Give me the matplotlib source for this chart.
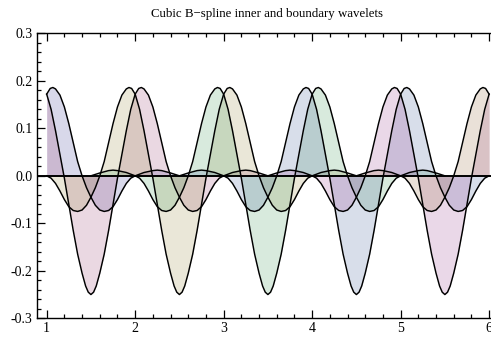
import numpy as np
import matplotlib
matplotlib.use("Agg")
import matplotlib.pyplot as plt
from matplotlib.ticker import MultipleLocator

# wavelet profile (offset from centre, value)
profile_dx = [-2.00, -1.90, -1.80, -1.75, -1.70, -1.60, -1.50, -1.45, -1.40, -1.35,
              -1.30, -1.25, -1.20, -1.15, -1.10, -1.05, -1.00, -0.95, -0.90, -0.85,
              -0.80, -0.75, -0.70, -0.65, -0.60, -0.57, -0.54, -0.50, -0.45, -0.40,
              -0.35, -0.30, -0.25, -0.20, -0.15, -0.10, -0.06, -0.03, 0.00,
              0.03, 0.06, 0.10, 0.15, 0.20, 0.25, 0.30, 0.35, 0.40, 0.45,
              0.50, 0.54, 0.57, 0.60, 0.65, 0.70, 0.75, 0.80, 0.85, 0.90,
              0.95, 1.00, 1.05, 1.10, 1.15, 1.20, 1.25, 1.30, 1.35, 1.40,
              1.45, 1.50, 1.60, 1.70, 1.75, 1.80, 1.90, 2.00]
profile_y = [0.000, 0.006, 0.011, 0.012, 0.011, 0.007, 0.000, -0.005, -0.016, -0.032,
             -0.050, -0.065, -0.073, -0.075, -0.072, -0.062, -0.045, -0.025, 0.000, 0.030,
             0.070, 0.110, 0.145, 0.170, 0.183, 0.186, 0.184, 0.172, 0.140, 0.095,
             0.045, -0.005, -0.060, -0.115, -0.165, -0.205, -0.232, -0.245, -0.250,
             -0.245, -0.232, -0.205, -0.165, -0.115, -0.060, -0.005, 0.045, 0.095, 0.140,
             0.172, 0.184, 0.186, 0.183, 0.170, 0.145, 0.110, 0.070, 0.030, 0.000,
             -0.025, -0.045, -0.062, -0.072, -0.075, -0.073, -0.065, -0.050, -0.032, -0.016,
             -0.005, 0.000, 0.007, 0.011, 0.012, 0.011, 0.006, 0.000]

# wavelet centres and their filling colours
centers = [0.5, 1.5, 2.5, 3.5, 4.5, 5.5, 6.5]
fill_colors = [(0.24, 0.24, 0.6), (0.6, 0.24, 0.4428), (0.6, 0.547, 0.24),
               (0.24, 0.6, 0.337), (0.24, 0.353, 0.6), (0.6, 0.24, 0.563),
               (0.6, 0.427, 0.24)]

x_ticks = [1, 2, 3, 4, 5, 6]
y_ticks = [-0.3, -0.2, -0.1, 0.0, 0.1, 0.2, 0.3]

plt.rcParams['font.family'] = ['Liberation Serif', 'DejaVu Serif']

fig = plt.figure(figsize=(4.91, 3.38), dpi=100)
ax = fig.add_axes([0.0747, 0.0583, 0.9395, 0.843])

dx = np.array(profile_dx)
py = np.array(profile_y)
for c, col in zip(centers, fill_colors):
    x = c + dx
    keep = (x >= 1.0 - 1e-9) & (x <= 6.0 + 1e-9)
    ax.fill_between(x[keep], py[keep], 0, color=col, alpha=0.2, lw=0, zorder=1)
for c in centers:
    x = c + dx
    keep = (x >= 1.0 - 1e-9) & (x <= 6.0 + 1e-9)
    ax.plot(x[keep], py[keep], color='black', lw=1.05, zorder=2)

ax.axhline(0, color='black', lw=1.4, zorder=3)

ax.set_xlim(0.887, 6.1)
ax.set_ylim(-0.3, 0.3)
ax.set_xticks(x_ticks)
ax.set_yticks(y_ticks)
ax.set_yticklabels([f"{v:.1f}" for v in y_ticks])
ax.xaxis.set_minor_locator(MultipleLocator(0.2))
ax.yaxis.set_minor_locator(MultipleLocator(0.02))
ax.tick_params(which='both', direction='in', top=True, right=False,
               labelsize=10, width=0.9, color='black')
ax.tick_params(which='major', length=6, pad=3)
ax.tick_params(which='minor', length=3)
ax.spines['right'].set_visible(False)
for s in ['left', 'bottom', 'top']:
    ax.spines[s].set_linewidth(1.0)

ax.set_title("Cubic B\u2212spline inner and boundary wavelets", fontsize=9.3, pad=12)

fig.savefig("out.png", dpi=100)
